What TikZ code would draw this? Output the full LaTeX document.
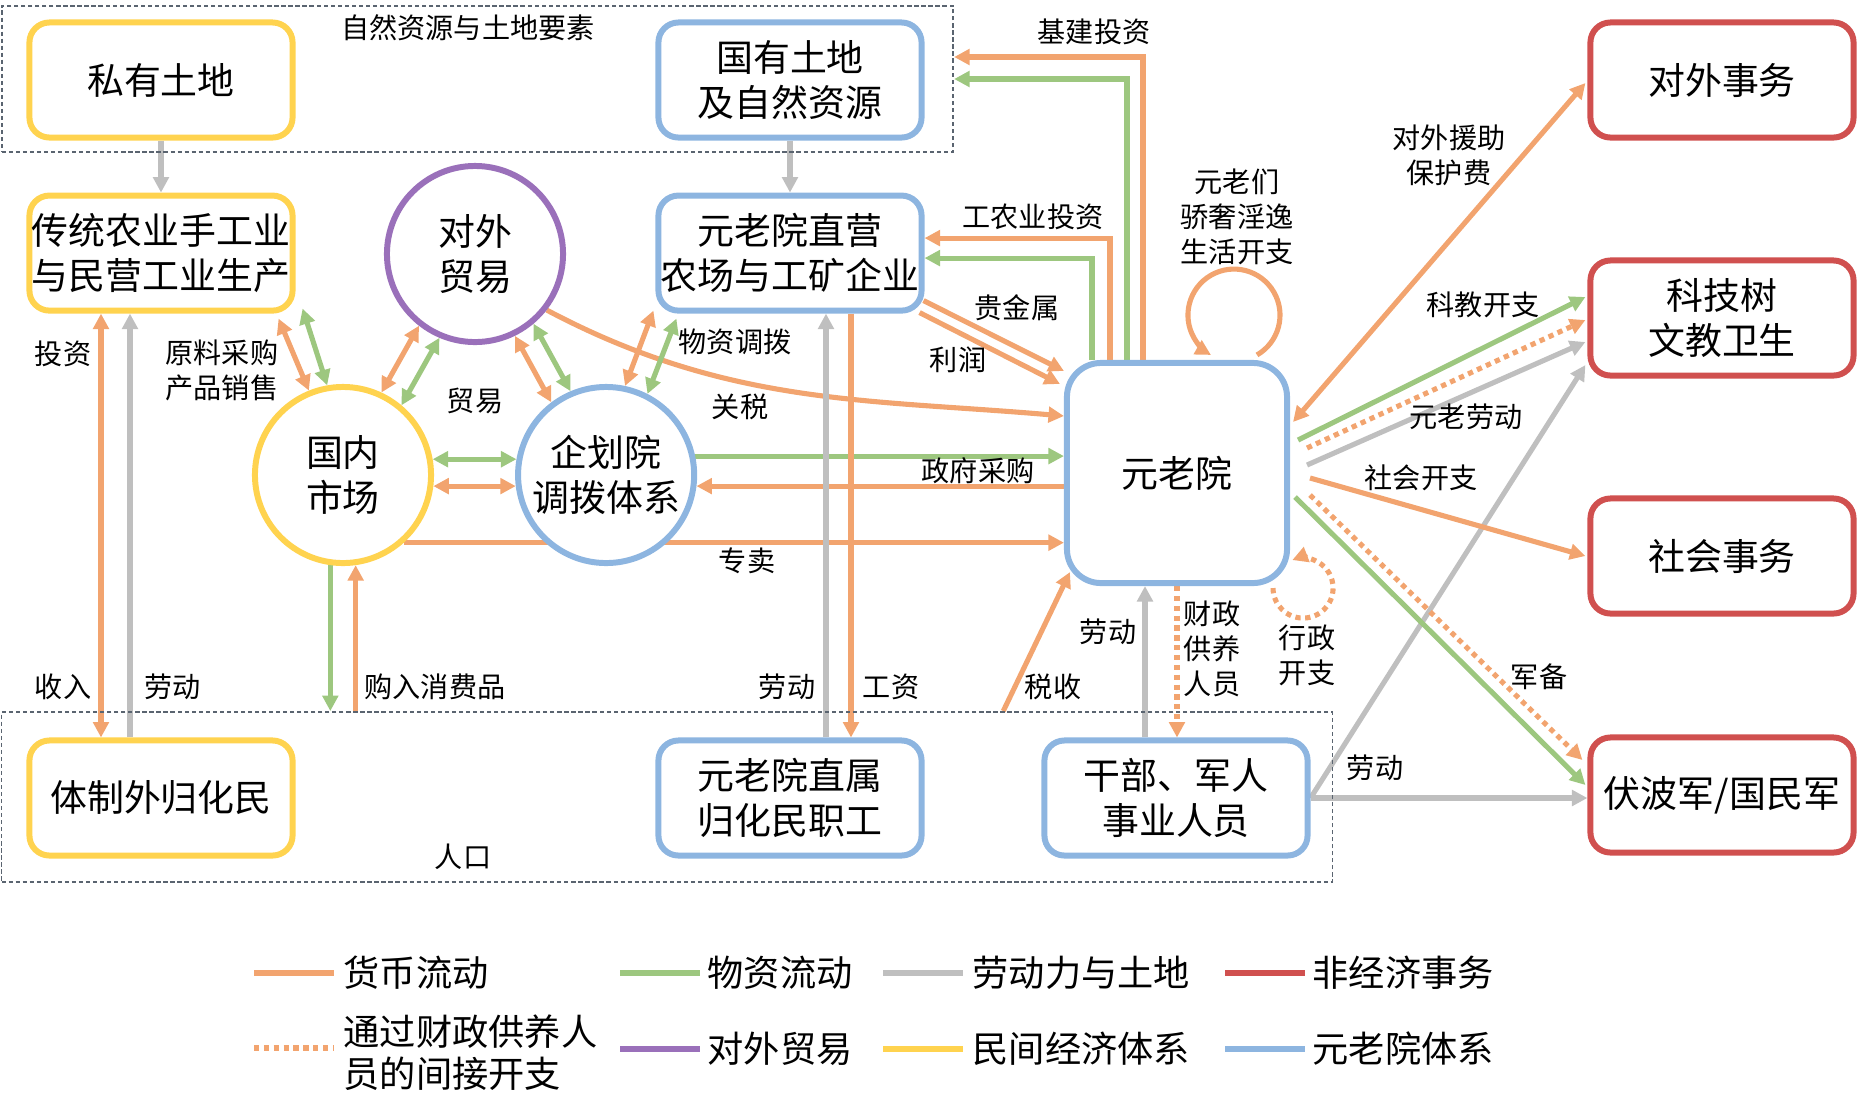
\documentclass[tikz,border=0pt]{standalone}
\usepackage{fontspec}
\setmainfont{Noto Sans CJK SC}
\usetikzlibrary{arrows.meta, positioning, calc, backgrounds}

\definecolor{cMoney}{HTML}{F2A46F}
\definecolor{cGoods}{HTML}{9DC77F}
\definecolor{cLabour}{HTML}{BFBFBF}
\definecolor{cAffair}{HTML}{D0504F}
\definecolor{cTrade}{HTML}{9A70BA}
\definecolor{cCivil}{HTML}{FFD34F}
\definecolor{cSenate}{HTML}{8DB5E0}
\definecolor{cGroup}{HTML}{5A6470}

\begin{document}
\begin{tikzpicture}[
    x=0.01cm, y=-0.01cm,
    font=\fontsize{8pt}{10pt}\selectfont,
    nd/.style={
      draw, line width=1.7pt, fill=white, rounded corners=0.2cm,
      minimum width=2.63cm, minimum height=1.15cm,
      align=center, inner sep=0pt,
      font=\fontsize{10.5pt}{12.8pt}\selectfont
    },
    civ/.style={nd, draw=cCivil},
    sen/.style={nd, draw=cSenate},
    aff/.style={nd, draw=cAffair},
    rnd/.style={
      circle, draw, line width=1.7pt, fill=white, minimum size=1.76cm,
      align=center, inner sep=0pt,
      font=\fontsize{10.5pt}{12.8pt}\selectfont
    },
    grp/.style={draw=cGroup, line width=0.5pt, dash pattern=on 1.2pt off 0.8pt, inner sep=0pt},
    arr/.style={-{Triangle[length=4.4pt, width=4.4pt]}, line width=1.45pt},
    dbl/.style={{Triangle[length=4.4pt, width=4.4pt]}-{Triangle[length=4.4pt, width=4.4pt]}, line width=1.45pt},
    money/.style={draw=cMoney},
    goods/.style={draw=cGoods},
    labour/.style={draw=cLabour},
    indirect/.style={draw=cMoney, dash pattern=on 1.5pt off 1.3pt},
    arrlbl/.style={align=center, inner sep=1pt},
    lgline/.style={line width=1.7pt},
    lgtxt/.style={anchor=west, align=left, inner sep=0pt, font=\fontsize{10.3pt}{12pt}\selectfont}
  ]
  \useasboundingbox (0,0) rectangle (1868,1117);

  % groups
  \node[grp, minimum width=9.51cm, minimum height=1.46cm] (natres) at (477.5,79) {};
  \node[grp, minimum width=13.3cm, minimum height=1.7cm]  (pop)    at (667,797)  {};
  \node[arrlbl] (lbNat) at (468,28)  {自然资源与土地要素};
  \node[arrlbl] (lbPop) at (463,857) {人口};

  \node[civ]                    (priv)    at (161,80)   {私有土地};
  \node[sen]                    (state)   at (790,80)   {国有土地\\及自然资源};
  \node[civ, below=0.52cm of priv]  (trad)  {传统农业手工业\\与民营工业生产};
  \node[sen, below=0.52cm of state] (direct) {元老院直营\\农场与工矿企业};
  \node[rnd, draw=cTrade]       (trade)   at (475,254)  {对外\\贸易};
  \node[rnd, draw=cCivil]       (market)  at (343,475)  {国内\\市场};
  \node[rnd, draw=cSenate, right=0.81cm of market] (plan) {企划院\\调拨体系};
  \node[sen, minimum width=2.2cm, minimum height=2.2cm, rounded corners=0.34cm]
                                (senate)  at (1177,473) {元老院};
  \node[civ]                    (outside) at (161,798)  {体制外归化民};
  \node[sen]                    (workers) at (790,798)  {元老院直属\\归化民职工};
  \node[sen]                    (cadre)   at (1176,798) {干部、军人\\事业人员};
  \node[aff]                    (foreign) at (1722,80)  {对外事务};
  \node[aff]                    (tech)    at (1722,318) {科技树\\文教卫生};
  \node[aff]                    (social)  at (1722,556) {社会事务};
  \node[aff]                    (army)    at (1722,795) {伏波军/国民军};

  \begin{scope}[on background layer]
  \draw[arr, labour] (priv) -- (trad);
  \draw[arr, labour] (state) -- (direct);
  % 投资
  \draw[arr, money] ($(senate.north)+(-34,0)$) |- ($(natres.east)+(0,-22)$);
  \draw[arr, goods] ($(senate.north)+(-50,0)$) |- (natres.east);
  \draw[arr, money] ($(senate.north)+(-67,0)$) |- ($(direct.east)+(0,-15)$);
  \draw[arr, goods] ($(senate.north)+(-85,0)$) |- ($(direct.east)+(0,5)$);
  \draw[arr, money] ($(direct.south east)+(-1,-13)$) -- ($(senate.north west)+(0,11)$);
  \draw[arr, money] ($(direct.south east)+(-5,-1)$) -- ($(senate.north west)+(-4,24)$);
  \draw[arr, money] (trade.-38) .. controls +(181,96) and +(-196,-17) .. ($(senate.west)+(0,-57)$);
  \draw[arr, goods] (plan.12) -- (plan.12 -| senate.west);
  \draw[arr, money] (plan.-7 -| senate.west) -- (plan.-7);
  \draw[arr, money] (market.-48) -- (market.-48 -| senate.west);
  % 市场与调拨
  \draw[dbl, goods] (market.10) -- (plan.170);
  \draw[dbl, money] (market.-7) -- (plan.187);
  \draw[dbl, money] ($(trad.south east)+(-17,5)$) -- (market.112);
  \draw[dbl, goods] ($(trad.south east)+(7,-5)$) -- (market.100);
  \draw[dbl, money] (market.65) -- (trade.232);
  \draw[dbl, goods] (market.50) -- (trade.247);
  \draw[dbl, money] (trade.-64) -- (plan.127);
  \draw[dbl, goods] (trade.-50) -- (plan.113);
  \draw[dbl, money] ($(direct.south west)+(-2,-3)$) -- (plan.78);
  \draw[dbl, goods] ($(direct.south west)+(21,5)$) -- (plan.63);
  % 人口
  \draw[dbl, money] ($(trad.south)+(-60,0)$) -- ($(outside.north)+(-60,0)$);
  \draw[arr, labour] ($(outside.north)+(-31,0)$) -- ($(trad.south)+(-31,0)$);
  \draw[arr, goods] (market.-98) -- (market.-98 |- pop.north);
  \draw[arr, money] (market.-82 |- pop.north) -- (market.-82);
  \draw[arr, labour] ($(workers.north)+(36,0)$) -- ($(direct.south)+(36,0)$);
  \draw[arr, money] ($(direct.south)+(61,0)$) -- ($(workers.north)+(61,0)$);
  \draw[arr, money] ($(pop.north east)+(-330,0)$) -- ($(senate.south west)+(6,-14)$);
  \draw[arr, labour] ($(cadre.north)+(-31,0)$) -- ($(senate.south)+(-32,0)$);
  \draw[arr, indirect] (senate.south) -- (senate.south |- cadre.north);
  \draw[arr, indirect] ($(senate.south east)+(-17,2)$) arc[start angle=180, end angle=471, radius=0.3cm];
  \draw[arr, money] ($(senate.north)+(80,-5)$) arc[start angle=-60, end angle=240, radius=0.46cm];
  % 非经济事务
  \draw[dbl, money] ($(senate.east)+(3,-51)$) -- ($(foreign.west)+(-2,3)$);
  \draw[arr, goods] ($(senate.east)+(8,-33)$) -- ($(tech.west)+(-2,-21)$);
  \draw[arr, indirect] ($(senate.east)+(17,-25)$) -- ($(tech.west)+(-2,2)$);
  \draw[arr, labour] ($(senate.east)+(17,-8)$) -- ($(tech.west)+(-2,24)$);
  \draw[arr, labour] (cadre.east) -- ($(tech.west)+(-2,47)$);
  \draw[arr, money] ($(senate.east)+(20,5)$) -- ($(social.west)+(-2,0)$);
  \draw[arr, goods] ($(senate.east)+(5,24)$) -- ($(army.west)+(-2,-10)$);
  \draw[arr, indirect] ($(senate.east)+(20,22)$) -- ($(army.west)+(-5,-35)$);
  \draw[arr, labour] (cadre.east) -- (cadre.east -| army.west);
  \end{scope}

  % labels
  \node[arrlbl] (lbJijian)  at (1094,32)  {基建投资};
  \node[arrlbl] (lbGongnong) at (1033,217) {工农业投资};
  \node[arrlbl] (lbGold)    at (1017,308) {贵金属};
  \node[arrlbl] (lbProfit)  at (958,360)  {利润};
  \node[arrlbl] (lbTariff)  at (740,407)  {关税};
  \node[arrlbl] (lbProcure) at (978,471)  {政府采购};
  \node[arrlbl] (lbMonop)   at (747,561)  {专卖};
  \node[arrlbl] (lbLuxury)  at (1237,217) {元老们\\骄奢淫逸\\生活开支};
  \node[arrlbl] (lbAid)     at (1449,155) {对外援助\\保护费};
  \node[arrlbl] (lbEdu)     at (1483,305) {科教开支};
  \node[arrlbl] (lbElder)   at (1466,417) {元老劳动};
  \node[arrlbl] (lbSocial)  at (1421,478) {社会开支};
  \node[arrlbl] (lbArms)    at (1539,677) {军备};
  \node[arrlbl] (lbLabArmy) at (1375,768) {劳动};
  \node[arrlbl] (lbAdmin)   at (1307,655) {行政\\开支};
  \node[arrlbl] (lbFiscal)  at (1212,649) {财政\\供养\\人员};
  \node[arrlbl] (lbLabCad)  at (1108,632) {劳动};
  \node[arrlbl] (lbTax)     at (1053,687) {税收};
  \node[arrlbl] (lbWage)    at (891,687)  {工资};
  \node[arrlbl] (lbLabWork) at (787,687)  {劳动};
  \node[arrlbl] (lbBuy)     at (435,687)  {购入消费品};
  \node[arrlbl] (lbIncome)  at (63,687)   {收入};
  \node[arrlbl] (lbLabOut)  at (173,687)  {劳动};
  \node[arrlbl] (lbInvest)  at (63,354)   {投资};
  \node[arrlbl] (lbRaw)     at (222,370)  {原料采购\\产品销售};
  \node[arrlbl] (lbTrade)   at (475,401)  {贸易};
  \node[arrlbl] (lbAlloc)   at (735,342)  {物资调拨};

  % legend
  \node[lgtxt] (lgMoney)  at (343,973)   {货币流动};
  \node[lgtxt] (lgGoods)  at (707,973)   {物资流动};
  \node[lgtxt] (lgLabour) at (972,973)   {劳动力与土地};
  \node[lgtxt] (lgAffair) at (1312,973)  {非经济事务};
  \node[lgtxt] (lgInd)    at (343,1053)  {通过财政供养人\\员的间接开支};
  \node[lgtxt] (lgTrade)  at (707,1049)  {对外贸易};
  \node[lgtxt] (lgCivil)  at (972,1049)  {民间经济体系};
  \node[lgtxt] (lgSenate) at (1312,1049) {元老院体系};
  \draw[lgline, draw=cMoney]  ($(lgMoney.west)+(-89,0)$) -- ($(lgMoney.west)+(-9,0)$);
  \draw[lgline, draw=cGoods]  ($(lgGoods.west)+(-87,0)$) -- ($(lgGoods.west)+(-7,0)$);
  \draw[lgline, draw=cLabour] ($(lgLabour.west)+(-89,0)$) -- ($(lgLabour.west)+(-9,0)$);
  \draw[lgline, draw=cAffair] ($(lgAffair.west)+(-87,0)$) -- ($(lgAffair.west)+(-7,0)$);
  \draw[lgline, indirect]     ($(lgInd.west)+(-89,-5)$) -- ($(lgInd.west)+(-9,-5)$);
  \draw[lgline, draw=cTrade]  ($(lgTrade.west)+(-87,0)$) -- ($(lgTrade.west)+(-7,0)$);
  \draw[lgline, draw=cCivil]  ($(lgCivil.west)+(-89,0)$) -- ($(lgCivil.west)+(-9,0)$);
  \draw[lgline, draw=cSenate] ($(lgSenate.west)+(-87,0)$) -- ($(lgSenate.west)+(-7,0)$);
\end{tikzpicture}
\end{document}
